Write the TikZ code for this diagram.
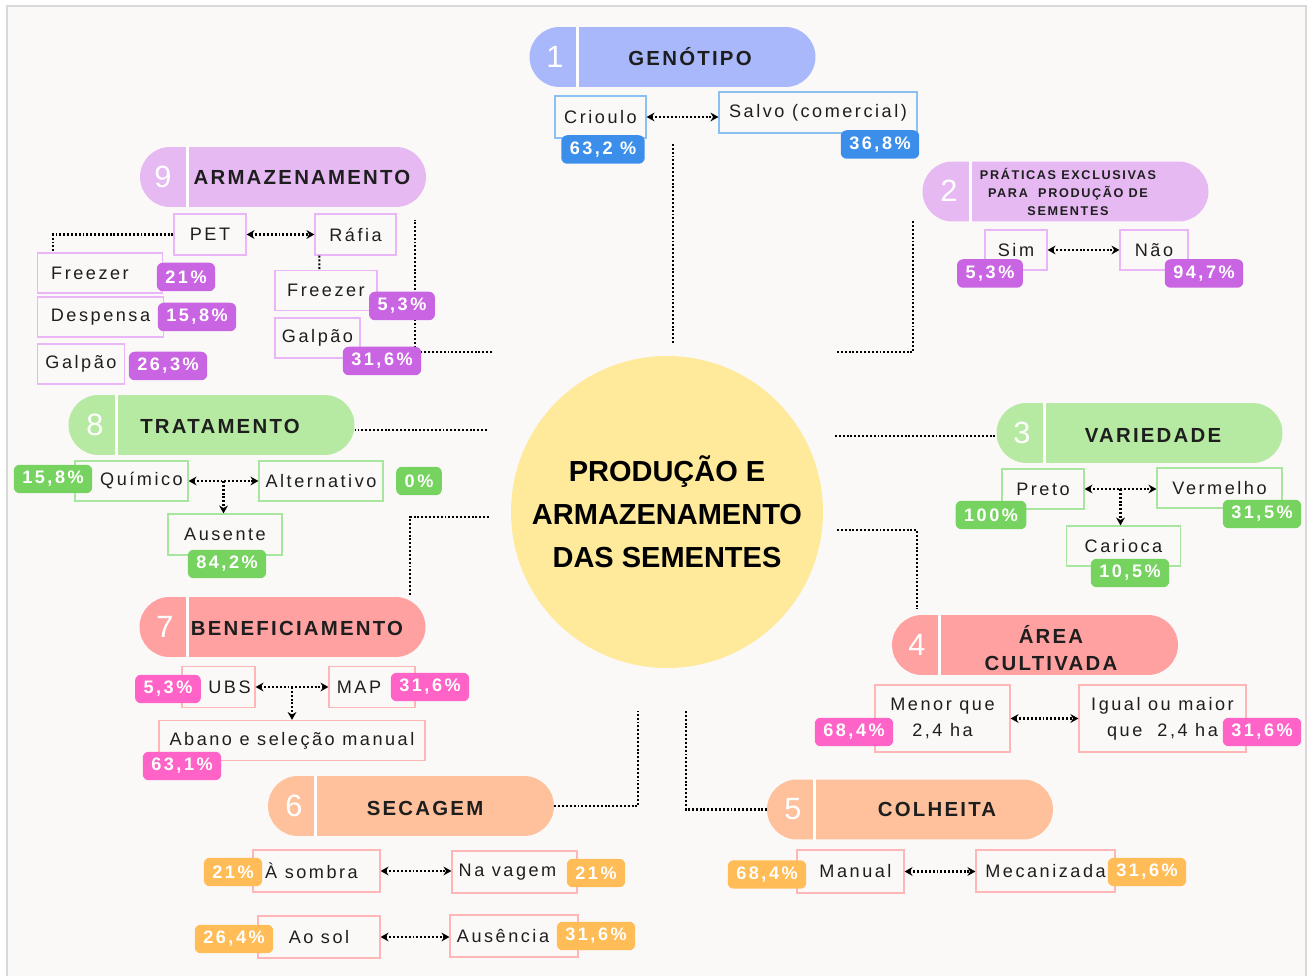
\documentclass[tikz,border=0pt]{standalone}
\usepackage{fontspec}
\usepackage{xcolor}
\usepackage{tikz}
\usetikzlibrary{arrows.meta, positioning, calc}
\setmainfont{Liberation Sans}
\newfontfamily\itemfont[LetterSpace=14]{Liberation Sans}
\newfontfamily\headfont[LetterSpace=11]{Liberation Sans}
\newfontfamily\tinyheadfont[LetterSpace=13]{Liberation Sans}
\newfontfamily\pctfont[LetterSpace=14]{Liberation Sans}
\definecolor{pagebg}{RGB}{250, 249, 248}
\definecolor{pageedge}{RGB}{216, 216, 216}
\definecolor{hubyellow}{RGB}{255, 233, 155}
\definecolor{inkdark}{RGB}{30, 30, 30}
\definecolor{genblue}{RGB}{169, 184, 251}
\definecolor{boxblue}{RGB}{140, 192, 240}
\definecolor{pctblue}{RGB}{59, 143, 234}
\definecolor{lilacpill}{RGB}{230, 185, 243}
\definecolor{boxlilac}{RGB}{234, 182, 247}
\definecolor{pctlilac}{RGB}{201, 100, 226}
\definecolor{leafgreen}{RGB}{182, 233, 161}
\definecolor{boxgreen}{RGB}{168, 230, 160}
\definecolor{pctgreen}{RGB}{119, 211, 95}
\definecolor{salmonpill}{RGB}{255, 161, 161}
\definecolor{boxsalmon}{RGB}{255, 182, 182}
\definecolor{pctpink}{RGB}{255, 99, 199}
\definecolor{peachpill}{RGB}{255, 193, 155}
\definecolor{pctorange}{RGB}{255, 188, 87}

\begin{document}
\begin{tikzpicture}[
    x=0.02cm, y=-0.02cm,
    pill/.style={rounded corners=0.6cm, minimum width=5.72cm, minimum height=1.2cm, inner sep=0pt},
    num/.style={text=white, font=\fontsize{17.5}{19}\selectfont},
    head/.style={text=inkdark, align=center, font=\headfont\bfseries\fontsize{11.6}{15.4}\selectfont},
    divider/.style={white, line width=1.6pt},
    opt/.style={draw, line width=0.7pt, inner sep=0pt, align=center, text=inkdark, font=\itemfont\fontsize{10.3}{15}\selectfont},
    pct/.style={rounded corners=0.12cm, text=white, minimum height=0.57cm, inner xsep=0.17cm, inner ysep=0pt, font=\pctfont\bfseries\fontsize{10.3}{12}\selectfont},
    link/.style={line width=1.2pt, dash pattern=on 1.1pt off 1.1pt},
    twoway/.style={link, {Stealth[length=4.5pt, width=5pt]}-{Stealth[length=4.5pt, width=5pt]}},
    oneway/.style={link, -{Stealth[length=4.5pt, width=5pt]}}
]

% Sheet
\useasboundingbox (0,0) rectangle (1313,976);
\fill[white] (0,0) rectangle (1313,976);
\fill[pagebg] (7,6) rectangle (1306,976);
\draw[pageedge, line width=1.2pt] (7,976) -- (7,6) -- (1306,6) -- (1306,976);

% Hub
\node[circle, fill=hubyellow, minimum size=6.24cm, align=center, font=\bfseries\fontsize{16.5}{24.5}\selectfont] (hub) at (667,512) {PRODUÇÃO E\\ARMAZENAMENTO\\DAS SEMENTES};

% Dotted links
\coordinate (g1) at (673,144);
\coordinate (h1) at (673,343);
\draw[link] (h1) -- (g1);
\coordinate (h2) at (837,352);
\coordinate (g2) at (913,220);
\draw[link] (h2) -| (g2);
\coordinate (h9) at (492,352);
\coordinate (g9) at (415,220);
\draw[link] (h9) -| (g9);
\coordinate (h8) at (487,430);
\coordinate (h3) at (835,436);
\coordinate (h7) at (489,517);
\coordinate (g7) at (410,595);
\draw[link] (h7) -| (g7);
\coordinate (h4) at (837,530);
\coordinate (g4) at (917,609);
\draw[link] (h4) -| (g4);
\coordinate (g6) at (638,711);
\coordinate (g5) at (686,711);

% 1 Genotipo
\node[pill, fill=genblue] (p1) at (672.5,57) {};
\draw[divider] ($(p1.north west)+(48,0)$) -- ($(p1.south west)+(48,0)$);
\node[num] (n1) at (555,57) {1};
\node[head] (t1) at (690,57) {GENÓTIPO};
\node[opt, draw=boxblue, minimum width=1.82cm, minimum height=0.84cm] (crioulo) at (600.5,117) {Crioulo};
\node[opt, draw=boxblue, minimum width=3.96cm, minimum height=0.82cm] (salvo) at (818,112.5) {Salvo (comercial)};
\draw[twoway] (crioulo.east) -- (crioulo.east -| salvo.west);
\node[pct, fill=pctblue] (pc1a) at (603,149.5) {63,2 \%};
\node[pct, fill=pctblue] (pc1b) at (880,144.5) {36,8\%};

% 2 Praticas exclusivas
\node[pill, fill=lilacpill] (p2) at (1065.5,191.5) {};
\draw[divider] ($(p2.north west)+(48,0)$) -- ($(p2.south west)+(48,0)$);
\node[num] (n2) at (949,191) {2};
\node[head, font=\tinyheadfont\bfseries\fontsize{7.2}{10}\selectfont] (t2) at (1068,192) {PRÁTICAS EXCLUSIVAS\\PARA\ \ PRODUÇÃO DE\\SEMENTES};
\node[opt, draw=boxlilac, minimum width=1.24cm, minimum height=0.8cm] (sim) at (1016,250) {Sim};
\node[opt, draw=boxlilac, minimum width=1.36cm, minimum height=0.8cm] (nao) at (1154,250) {Não};
\draw[twoway] (sim.east) -- (sim.east -| nao.west);
\node[pct, fill=pctlilac] (pc2a) at (990,273.5) {5,3\%};
\node[pct, fill=pctlilac] (pc2b) at (1204,273.5) {94,7\%};

% 9 Armazenamento
\node[pill, fill=lilacpill] (p9) at (283,177) {};
\draw[divider] ($(p9.north west)+(48,0)$) -- ($(p9.south west)+(48,0)$);
\node[num] (n9) at (163,177) {9};
\node[head] (t9) at (302,177) {ARMAZENAMENTO};
\node[opt, draw=boxlilac, minimum width=1.44cm, minimum height=0.82cm] (pet) at (210,234.5) {PET};
\node[opt, draw=boxlilac, minimum width=1.62cm, minimum height=0.82cm] (rafia) at (355.5,234.5) {Ráfia};
\draw[twoway] (pet.east) -- (pet.east -| rafia.west);
\node[opt, draw=boxlilac, minimum width=2.5cm, minimum height=0.8cm] (fzA) at (100,273) {Freezer\hspace*{0.4cm}};
\node[opt, draw=boxlilac, minimum width=2.52cm, minimum height=0.8cm] (desp) at (100.5,317) {Despensa};
\node[opt, draw=boxlilac, minimum width=1.74cm, minimum height=0.8cm] (galA) at (81,364) {Galpão};
\node[opt, draw=boxlilac, minimum width=2.04cm, minimum height=0.8cm] (fzB) at (326,290.5) {Freezer};
\node[opt, draw=boxlilac, minimum width=1.7cm, minimum height=0.8cm] (galB) at (317.5,338) {Galpão};
\draw[link] (pet.west) -| ($(fzA.north west)+(16,0)$);
\draw[link] ($(rafia.south west)+(5,0)$) -- ($(fzB.north west)+(45,0)$);
\node[pct, fill=pctlilac] (pc9a) at (186,277) {21\%};
\node[pct, fill=pctlilac] (pc9b) at (197,317) {15,8\%};
\node[pct, fill=pctlilac] (pc9c) at (168,366) {26,3\%};
\node[pct, fill=pctlilac] (pc9d) at (402,306) {5,3\%};
\node[pct, fill=pctlilac] (pc9e) at (382,361) {31,6\%};

% 8 Tratamento
\node[pill, fill=leafgreen] (p8) at (211.5,425) {};
\draw[divider] ($(p8.north west)+(48,0)$) -- ($(p8.south west)+(48,0)$);
\node[num] (n8) at (95,425) {8};
\node[head] (t8) at (220,426) {TRATAMENTO};
\draw[link] (h8) -- (p8.east |- h8);
\node[opt, draw=boxgreen, minimum width=2.26cm, minimum height=0.8cm] (quim) at (131.5,481) {\hspace*{0.4cm}Químico};
\node[opt, draw=boxgreen, minimum width=2.48cm, minimum height=0.8cm] (alt) at (321,481) {Alternativo};
\node[opt, draw=boxgreen, minimum width=2.28cm, minimum height=0.82cm] (aus) at (225,534.5) {Ausente};
\draw[twoway] (quim.east) -- (quim.east -| alt.west);
\coordinate (m8) at ($(quim.east)!0.5!(alt.west)$);
\draw[oneway] (m8) -- (m8 |- aus.north);
\node[pct, fill=pctgreen] (pc8a) at (53,479) {15,8\%};
\node[pct, fill=pctgreen] (pc8b) at (419,481) {0\%};
\node[pct, fill=pctgreen] (pc8c) at (227,564) {84,2\%};

% 3 Variedade
\node[pill, fill=leafgreen] (p3) at (1139.5,433) {};
\draw[divider] ($(p3.north west)+(48,0)$) -- ($(p3.south west)+(48,0)$);
\node[num] (n3) at (1022,433) {3};
\node[head] (t3) at (1153,435) {VARIEDADE};
\draw[link] (h3) -- (p3.west |- h3);
\node[opt, draw=boxgreen, minimum width=1.64cm, minimum height=0.8cm] (preto) at (1043,489) {Preto};
\node[opt, draw=boxgreen, minimum width=2.5cm, minimum height=0.8cm] (verm) at (1219.5,488) {Vermelho};
\node[opt, draw=boxgreen, minimum width=2.28cm, minimum height=0.8cm] (carioca) at (1123.5,546) {Carioca};
\draw[twoway] (preto.east) -- (preto.east -| verm.west);
\coordinate (m3) at ($(preto.east)!0.5!(preto.east -| verm.west)$);
\draw[oneway] (m3) -- (m3 |- carioca.north);
\node[pct, fill=pctgreen] (pc3a) at (991,515) {100\%};
\node[pct, fill=pctgreen] (pc3b) at (1262,514) {31,5\%};
\node[pct, fill=pctgreen] (pc3c) at (1130,573) {10,5\%};

% 7 Beneficiamento
\node[pill, fill=salmonpill] (p7) at (282.5,627) {};
\draw[divider] ($(p7.north west)+(48,0)$) -- ($(p7.south west)+(48,0)$);
\node[num] (n7) at (165,627) {7};
\node[head] (t7) at (297,628) {BENEFICIAMENTO};
\node[opt, draw=boxsalmon, minimum width=1.46cm, minimum height=0.82cm] (ubs) at (218.5,687) {\hspace*{0.44cm}UBS};
\node[opt, draw=boxsalmon, minimum width=1.72cm, minimum height=0.82cm] (map) at (372,687) {MAP\hspace*{0.52cm}};
\node[opt, draw=boxsalmon, minimum width=5.32cm, minimum height=0.8cm] (abano) at (292,740.5) {Abano e seleção manual};
\draw[twoway] (ubs.east) -- (ubs.east -| map.west);
\coordinate (m7) at ($(ubs.east)!0.5!(map.west)$);
\draw[oneway] (m7) -- (m7 |- abano.north);
\node[pct, fill=pctpink] (pc7a) at (168,689) {5,3\%};
\node[pct, fill=pctpink] (pc7b) at (430,687) {31,6\%};
\node[pct, fill=pctpink] (pc7c) at (182,766) {63,1\%};

% 4 Area cultivada
\node[pill, fill=salmonpill] (p4) at (1035,645) {};
\draw[divider] ($(p4.north west)+(48,0)$) -- ($(p4.south west)+(48,0)$);
\node[num] (n4) at (917,645) {4};
\node[head] (t4) at (1051,648) {ÁREA\\CULTIVADA};
\node[opt, draw=boxsalmon, minimum width=2.7cm, minimum height=1.34cm] (menor) at (942.5,718.5) {Menor que\\2,4 ha};
\node[opt, draw=boxsalmon, minimum width=3.34cm, minimum height=1.34cm] (igual) at (1162.5,718.5) {Igual ou maior\\que\ \ 2,4 ha};
\draw[twoway] (menor.east) -- (menor.east -| igual.west);
\node[pct, fill=pctpink] (pc4a) at (854,732) {68,4\%};
\node[pct, fill=pctpink] (pc4b) at (1262,732) {31,6\%};

% 6 Secagem
\node[pill, fill=peachpill] (p6) at (411,806) {};
\draw[divider] ($(p6.north west)+(48,0)$) -- ($(p6.south west)+(48,0)$);
\node[num] (n6) at (294,806) {6};
\node[head] (t6) at (425,808) {SECAGEM};
\draw[link] (p6.east) -| (g6);
\node[opt, draw=boxsalmon, minimum width=2.54cm, minimum height=0.84cm] (sombra) at (316.5,871) {À sombra\hspace*{0.2cm}};
\node[opt, draw=boxsalmon, minimum width=2.5cm, minimum height=0.84cm] (vagem) at (514.5,872) {Na vagem\hspace*{0.28cm}};
\node[opt, draw=boxsalmon, minimum width=2.44cm, minimum height=0.84cm] (aosol) at (319,937) {Ao sol};
\node[opt, draw=boxsalmon, minimum width=2.56cm, minimum height=0.84cm] (ausencia) at (514,936) {Ausência\hspace*{0.44cm}};
\draw[twoway] (sombra.east) -- (sombra.east -| vagem.west);
\draw[twoway] (aosol.east) -- (aosol.east -| ausencia.west);
\node[pct, fill=pctorange] (pc6a) at (233,872) {21\%};
\node[pct, fill=pctorange] (pc6b) at (596,873) {21\%};
\node[pct, fill=pctorange] (pc6c) at (234,939) {26,4\%};
\node[pct, fill=pctorange] (pc6d) at (596,936) {31,6\%};

% 5 Colheita
\node[pill, fill=peachpill] (p5) at (910,809.5) {};
\draw[divider] ($(p5.north west)+(48,0)$) -- ($(p5.south west)+(48,0)$);
\node[num] (n5) at (793,809) {5};
\node[head] (t5) at (937,809) {COLHEITA};
\draw[link] (g5) |- (p5.west);
\node[opt, draw=boxsalmon, minimum width=2.14cm, minimum height=0.86cm] (manual) at (850.5,871.5) {\hspace*{0.2cm}Manual};
\node[opt, draw=boxsalmon, minimum width=2.78cm, minimum height=0.84cm] (mecan) at (1045.5,871) {Mecanizada};
\draw[twoway] (manual.east) -- (manual.east -| mecan.west);
\node[pct, fill=pctorange] (pc5a) at (767,874.5) {68,4\%};
\node[pct, fill=pctorange] (pc5b) at (1147,872) {31,6\%};

\end{tikzpicture}
\end{document}
